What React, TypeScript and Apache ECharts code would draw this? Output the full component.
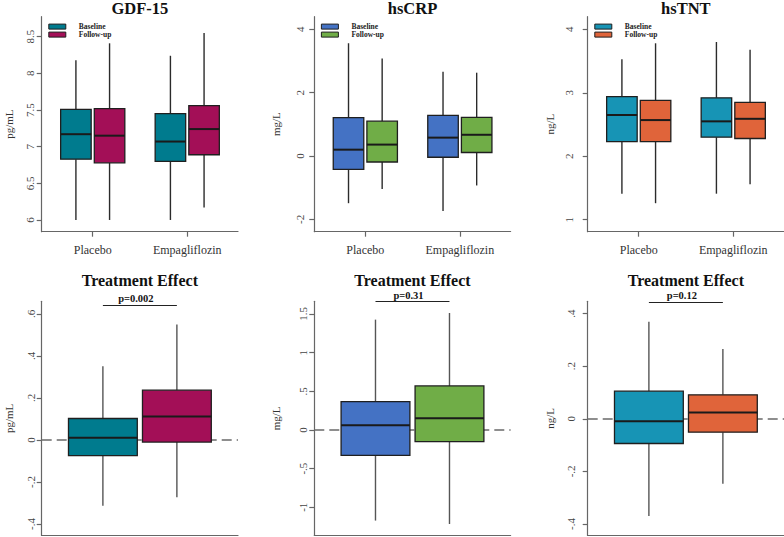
import React, { useEffect, useRef } from 'react';
import * as echarts from 'echarts';

// ---------- data ----------
const categories = ['Placebo', 'Empagliflozin'];
const groupNames = ['Baseline', 'Follow-up'];
const panelTitles = ['GDF-15', 'hsCRP', 'hsTNT'];
const effectTitle = 'Treatment Effect';
const unitLabels = ['pg/mL', 'mg/L', 'ng/L'];
const pValues = ['p=0.002', 'p=0.31', 'p=0.12'];

// each box: [min, Q1, median, Q3, max]
const gdfBaseline = [[6.0, 6.83, 7.17, 7.51, 8.18], [6.0, 6.8, 7.07, 7.45, 8.24]];
const gdfFollowup = [[6.0, 6.78, 7.15, 7.52, 8.41], [6.17, 6.89, 7.24, 7.56, 8.55]];
const crpBaseline = [[-1.49, -0.42, 0.2, 1.21, 3.56], [-1.74, -0.04, 0.58, 1.28, 2.66]];
const crpFollowup = [[-1.04, -0.19, 0.36, 1.1, 3.08], [-0.93, 0.11, 0.67, 1.22, 2.63]];
const tntBaseline = [[1.41, 2.23, 2.65, 2.94, 3.53], [1.41, 2.3, 2.55, 2.92, 3.8]];
const tntFollowup = [[1.26, 2.23, 2.57, 2.88, 3.78], [1.56, 2.28, 2.59, 2.85, 3.68]];
const gdfEffect = [[-0.313, -0.075, 0.01, 0.102, 0.351], [-0.273, -0.01, 0.111, 0.237, 0.549]];
const crpEffect = [[-1.172, -0.328, 0.06, 0.366, 1.427], [-1.216, -0.151, 0.151, 0.569, 1.513]];
const tntEffect = [[-0.37, -0.094, -0.009, 0.105, 0.369], [-0.247, -0.051, 0.024, 0.091, 0.266]];

const gdfTicks = [6, 6.5, 7, 7.5, 8, 8.5];
const crpTicks = [-2, 0, 2, 4];
const tntTicks = [1, 2, 3, 4];
const gdfEffectTicks = [-0.4, -0.2, 0, 0.2, 0.4, 0.6];
const crpEffectTicks = [-1, -0.5, 0, 0.5, 1, 1.5];
const tntEffectTicks = [-0.4, -0.2, 0, 0.2, 0.4];

// ---------- styling / layout ----------
const FONT = "'Liberation Serif', 'Times New Roman', serif";
const palettes = [
  ['#007b8e', '#a30f57'],
  ['#4472c4', '#70ad47'],
  ['#1794b5', '#e0643a'],
];
const colLeft = [41.7, 314.3, 587.7];
const gridW = 196.3;
const topRow = { top: 16.7, height: 215 };
const botRow = { top: 301.3, height: 234.2 };
const topY = [[5.84, 8.773], [-2.39, 4.398], [0.811, 4.199]];
const botY = [[-0.455, 0.66], [-1.365, 1.664], [-0.444, 0.447]];
const topLabelMargin = [6, 9, 13];
const botLabelMargin = [5, 6, 11];
const nameGaps = [27, 33, 32];
const bracketY = [0.643, 1.659, 0.4445];

const fmtTick = (v: number) => {
  const s = String(Math.round(v * 1000) / 1000);
  return s.replace(/^(-?)0\./, '$1.');
};

function boxRenderer(offset: number, width: number, fill: string, whisker: string) {
  return (params: any, api: any) => {
    const x = api.value(0) + offset;
    const mn = api.value(1);
    const q1 = api.value(2);
    const md = api.value(3);
    const q3 = api.value(4);
    const mx = api.value(5);
    const tl = api.coord([x - width / 2, q3]);
    const br = api.coord([x + width / 2, q1]);
    const top = api.coord([x, mx]);
    const bot = api.coord([x, mn]);
    const ml = api.coord([x - width / 2, md]);
    const mr = api.coord([x + width / 2, md]);
    const cx = top[0];
    return {
      type: 'group',
      children: [
        { type: 'line', shape: { x1: cx, y1: top[1], x2: cx, y2: tl[1] }, style: { stroke: whisker, lineWidth: 1.4 } },
        { type: 'line', shape: { x1: cx, y1: br[1], x2: cx, y2: bot[1] }, style: { stroke: whisker, lineWidth: 1.4 } },
        {
          type: 'rect',
          shape: { x: tl[0], y: tl[1], width: br[0] - tl[0], height: br[1] - tl[1] },
          style: { fill, stroke: '#1f1f1f', lineWidth: 1.3 },
        },
        { type: 'line', shape: { x1: ml[0], y1: ml[1], x2: mr[0], y2: mr[1] }, style: { stroke: '#1a1a1a', lineWidth: 2 } },
      ],
    };
  };
}

const toData = (boxes: number[][]) => boxes.map((b, i) => [i + 1, ...b]);

function buildOption() {
  const grids: any[] = [];
  const xAxes: any[] = [];
  const yAxes: any[] = [];
  const series: any[] = [];
  const legends: any[] = [];
  const graphics: any[] = [];

  const topSets = [
    [gdfBaseline, gdfFollowup, gdfTicks],
    [crpBaseline, crpFollowup, crpTicks],
    [tntBaseline, tntFollowup, tntTicks],
  ];
  const botSets = [
    [gdfEffect, gdfEffectTicks],
    [crpEffect, crpEffectTicks],
    [tntEffect, tntEffectTicks],
  ];

  const axisLineStyle = { color: '#666', width: 1.2 };
  const legendRich = {
    t: { fontFamily: FONT, fontSize: 7.5, fontWeight: 'bold', color: '#222', lineHeight: 8, padding: [0, 0, 0, 8] },
  };

  // top row
  for (let c = 0; c < 3; c++) {
    const gi = grids.length;
    grids.push({ left: colLeft[c], top: topRow.top, width: gridW, height: topRow.height });
    const [base, fol, ticks] = topSets[c] as any;
    xAxes.push({
      type: 'value', gridIndex: gi, min: 0.46, max: 2.537,
      axisLine: { show: true, onZero: false, lineStyle: axisLineStyle },
      axisTick: { show: true, length: 5, customValues: [1, 2], lineStyle: axisLineStyle },
      axisLabel: {
        customValues: [1, 2], margin: 12, fontFamily: FONT, fontSize: 12, color: '#333',
        formatter: (v: number) => categories[Math.round(v) - 1] ?? '',
      },
      splitLine: { show: false },
    });
    yAxes.push({
      type: 'value', gridIndex: gi, min: topY[c][0], max: topY[c][1],
      axisLine: { show: true, onZero: false, lineStyle: axisLineStyle },
      axisTick: { show: true, length: 5, customValues: ticks, lineStyle: axisLineStyle },
      axisLabel: {
        customValues: ticks, rotate: 90, margin: topLabelMargin[c], fontFamily: FONT,
        fontSize: 11, color: '#444', formatter: fmtTick,
      },
      splitLine: { show: false },
      name: unitLabels[c], nameLocation: 'middle', nameRotate: 90, nameGap: nameGaps[c],
      nameTextStyle: { fontFamily: FONT, fontSize: 11, color: '#333' },
    });
    const names = groupNames.map((g) => `${panelTitles[c]}|${g}`);
    [base, fol].forEach((boxes: number[][], k: number) => {
      series.push({
        type: 'custom', name: names[k], xAxisIndex: gi, yAxisIndex: gi, z: 2,
        encode: { x: 0, y: [1, 2, 3, 4, 5] },
        itemStyle: { color: palettes[c][k], borderColor: '#1f1f1f', borderWidth: 1 },
        renderItem: boxRenderer(k === 0 ? -0.178 : 0.178, 0.323, palettes[c][k], '#2b2b2b'),
        data: toData(boxes),
      });
    });
    legends.push({
      left: colLeft[c] + 6.6, top: 22.6, orient: 'vertical', icon: 'rect',
      itemWidth: 17, itemHeight: 5, itemGap: 0, padding: 0, selectedMode: false,
      data: names,
      formatter: (n: string) => `{t|${n.split('|')[1]}}`,
      itemStyle: { borderColor: '#1f1f1f', borderWidth: 1 },
      textStyle: { color: '#222', fontFamily: FONT, fontSize: 7.5, lineHeight: 8, rich: legendRich },
    });
    graphics.push({
      type: 'text', x: colLeft[c] + gridW / 2, y: 8.6,
      style: { text: panelTitles[c], fontFamily: FONT, fontSize: 16.5, lineHeight: 16, fontWeight: 'bold', fill: '#111', align: 'center', verticalAlign: 'middle' },
    });
  }

  // bottom row
  for (let c = 0; c < 3; c++) {
    const gi = grids.length;
    grids.push({ left: colLeft[c], top: botRow.top, width: gridW, height: botRow.height });
    const [eff, ticks] = botSets[c] as any;
    xAxes.push({
      type: 'value', gridIndex: gi, min: 0.173, max: 2.826,
      axisLine: { show: true, onZero: false, lineStyle: axisLineStyle },
      axisTick: { show: false }, axisLabel: { show: false }, splitLine: { show: false },
    });
    yAxes.push({
      type: 'value', gridIndex: gi, min: botY[c][0], max: botY[c][1],
      axisLine: { show: true, onZero: false, lineStyle: axisLineStyle },
      axisTick: { show: true, length: 5, customValues: ticks, lineStyle: axisLineStyle },
      axisLabel: {
        customValues: ticks, rotate: 90, margin: botLabelMargin[c], fontFamily: FONT,
        fontSize: 11, color: '#444', formatter: fmtTick,
      },
      splitLine: { show: false },
      name: unitLabels[c], nameLocation: 'middle', nameRotate: 90, nameGap: nameGaps[c],
      nameTextStyle: { fontFamily: FONT, fontSize: 11, color: '#333' },
    });
    (eff as number[][]).forEach((box, k) => {
      const s: any = {
        type: 'custom', name: `${effectTitle} ${c}|${groupNames[k]}`, xAxisIndex: gi, yAxisIndex: gi, z: 2,
        encode: { x: 0, y: [1, 2, 3, 4, 5] },
        itemStyle: { color: palettes[c][k] },
        renderItem: boxRenderer(0, 0.93, palettes[c][k], '#555'),
        data: [[k + 1, ...box]],
      };
      if (k === 0) {
        s.markLine = {
          silent: true, symbol: ['none', 'none'], z: 1, animation: false,
          data: [
            { yAxis: 0, lineStyle: { type: [10, 5], color: '#6a6a6a', width: 1.5 }, label: { show: false } },
            [
              {
                coord: [1, bracketY[c]],
                lineStyle: { type: 'solid', color: '#222', width: 1 },
                label: {
                  show: true, position: 'insideMiddleTop', distance: 1, offset: [-4, 0],
                  formatter: pValues[c], fontFamily: FONT, fontSize: 10.5, lineHeight: 10,
                  fontWeight: 'bold', color: '#111',
                },
              },
              { coord: [2, bracketY[c]] },
            ],
          ],
        };
      }
      series.push(s);
    });
    graphics.push({
      type: 'text', x: colLeft[c] + gridW / 2, y: 280.6,
      style: { text: effectTitle, fontFamily: FONT, fontSize: 16, lineHeight: 15, fontWeight: 'bold', fill: '#111', align: 'center', verticalAlign: 'middle' },
    });
  }

  return {
    animation: false,
    backgroundColor: '#ffffff',
    grid: grids,
    xAxis: xAxes,
    yAxis: yAxes,
    legend: legends,
    graphic: graphics,
    series,
  };
}

export default function App() {
  const ref = useRef<HTMLDivElement>(null);
  useEffect(() => {
    if (!ref.current) return;
    const chart = echarts.init(ref.current, undefined, { renderer: 'svg' });
    chart.setOption(buildOption() as any);
    return () => chart.dispose();
  }, []);
  return (
    <div
      ref={ref}
      style={{ position: 'absolute', left: 0, top: 0, width: 784, height: 537, background: '#fff' }}
    />
  );
}
